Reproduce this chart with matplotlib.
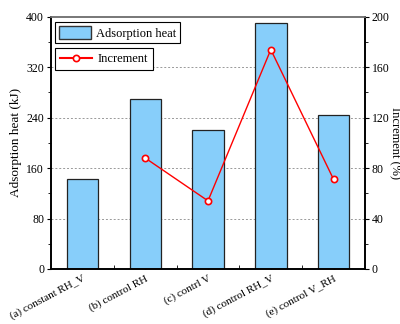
import matplotlib
matplotlib.use("Agg")
import matplotlib.pyplot as plt
import numpy as np
from matplotlib.patches import Patch
from matplotlib.lines import Line2D
from matplotlib.ticker import MultipleLocator

plt.rcParams['font.family'] = ['Liberation Serif', 'DejaVu Serif']

cases = ["(a) constant RH_V", "(b) control RH", "(c) contrl V",
         "(d) control RH_V", "(e) control V_RH"]
heat = [142, 269, 221, 391, 244]
inc_cases = [1, 2, 3, 4]
increment = [88, 54, 174, 71]

fig = plt.figure(figsize=(4.0, 3.24), dpi=100)
ax = fig.add_axes([0.1275, 0.17, 0.785, 0.778])
x = np.arange(1, len(cases) + 1)

ax.bar(x, heat, width=0.5, color="#87CEFA", edgecolor="#222222", linewidth=0.9, zorder=2)
ax.set_xlim(0.5, 5.5)
ax.set_ylim(0, 400)
ax.yaxis.set_major_locator(MultipleLocator(80))
ax.yaxis.set_minor_locator(MultipleLocator(40))
ax.set_xticks(x)
ax.set_xticks(np.arange(1.5, 5.5, 1), minor=True)
ax.set_xticklabels(cases, rotation=28, ha="right", rotation_mode="anchor", fontsize=8)
ax.tick_params(axis="x", which="both", direction="in", length=3)
ax.tick_params(axis="y", which="major", direction="out", length=3, labelsize=8.5, pad=2)
ax.tick_params(axis="y", which="minor", direction="out", length=2)
ax.set_ylabel("Adsorption heat (kJ)", fontsize=9.5, labelpad=3)
for v in [80, 160, 240, 320]:
    ax.axhline(v, color="#999999", linestyle=(0, (2, 2)), linewidth=0.7, zorder=1)
for s in ax.spines.values():
    s.set_linewidth(1.2)
ax.spines["top"].set_color("#777777")

ax2 = ax.twinx()
ax2.plot(np.array(x)[inc_cases], increment, color="red", linewidth=1.0, marker="o",
         markersize=4.5, markerfacecolor="white", markeredgecolor="red", markeredgewidth=1.2)
ax2.set_ylim(0, 200)
ax2.yaxis.set_major_locator(MultipleLocator(40))
ax2.yaxis.set_minor_locator(MultipleLocator(20))
ax2.tick_params(axis="y", which="major", direction="out", length=3, labelsize=8.5, pad=2)
ax2.tick_params(axis="y", which="minor", direction="out", length=2)
ax2.set_ylabel("Increment (%)", fontsize=9, rotation=270, va="center")
ax2.yaxis.set_label_coords(1.095, 0.5)
for s in ax2.spines.values():
    s.set_linewidth(1.2)
ax2.spines["top"].set_color("#777777")

leg1 = ax2.legend(handles=[Patch(facecolor="#87CEFA", edgecolor="#333333", label="Adsorption heat")],
                  loc="upper left", bbox_to_anchor=(0.0, 0.995), fontsize=9, fancybox=False,
                  edgecolor="black", framealpha=1, borderaxespad=0.3, handlelength=2.6,
                  handleheight=1.3, handletextpad=0.4, borderpad=0.3)
leg1.get_frame().set_linewidth(0.8)
ax2.add_artist(leg1)
leg2 = ax2.legend(handles=[Line2D([], [], color="red", marker="o", markerfacecolor="white",
                                  markersize=4.5, markeredgewidth=1.2, label="Increment")],
                  loc="upper left", bbox_to_anchor=(0.0, 0.89), fontsize=9, fancybox=False,
                  edgecolor="black", framealpha=1, borderaxespad=0.3, handlelength=2.6,
                  handletextpad=0.4, borderpad=0.4)
leg2.get_frame().set_linewidth(0.8)

fig.savefig("out.png", dpi=100)
